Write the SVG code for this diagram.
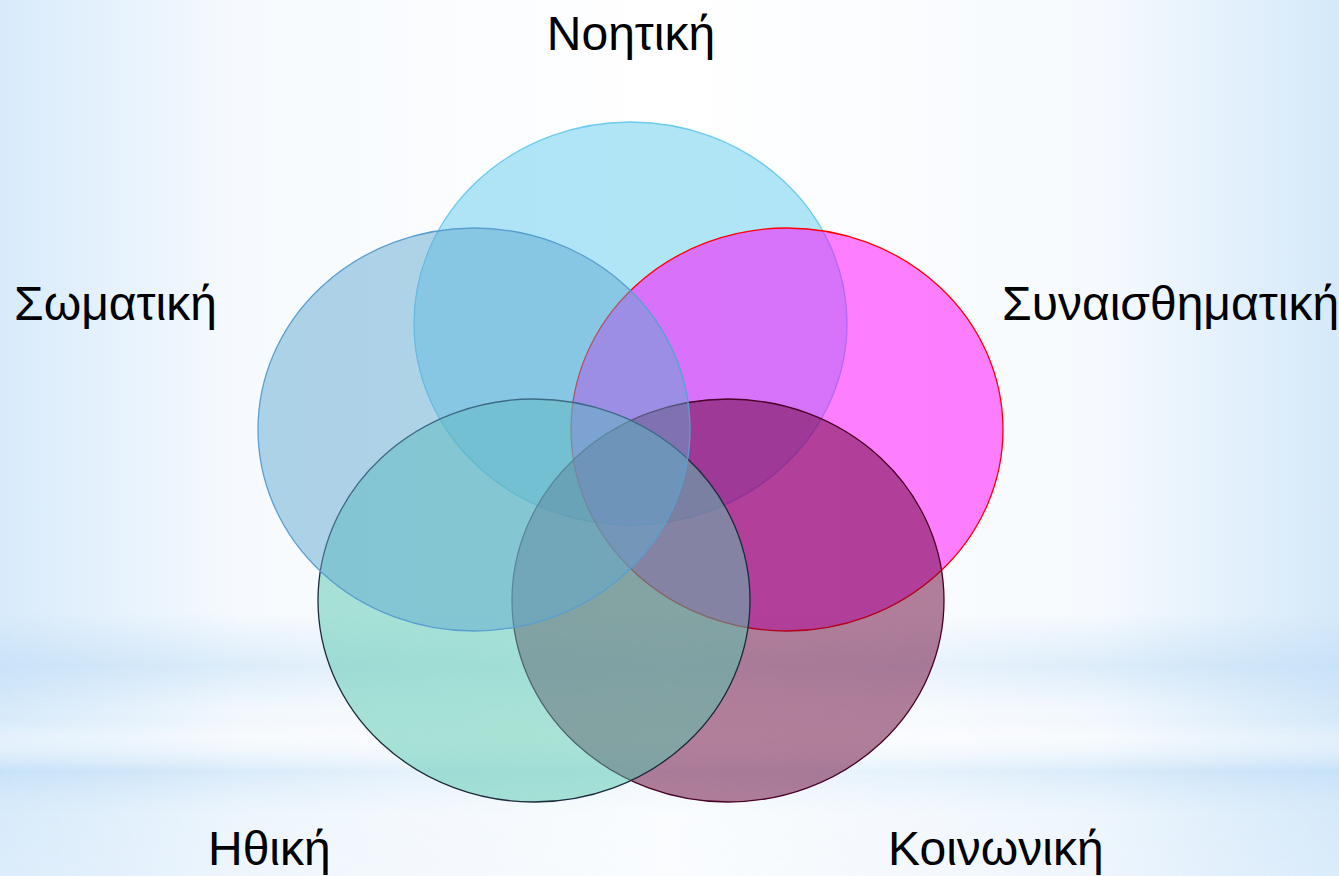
<svg xmlns="http://www.w3.org/2000/svg" width="1339" height="876" viewBox="0 0 1339 876">
  <defs>
    <linearGradient id="bgH" x1="0" y1="0" x2="1" y2="0">
      <stop offset="0" stop-color="#d8ebfb"/>
      <stop offset="0.18" stop-color="#f6fafe"/>
      <stop offset="0.5" stop-color="#ffffff"/>
      <stop offset="0.82" stop-color="#f6fafe"/>
      <stop offset="1" stop-color="#d5e9fa"/>
    </linearGradient>
    <linearGradient id="bgV" x1="0" y1="0" x2="0" y2="1">
      <stop offset="0" stop-color="#c5e0f7" stop-opacity="0"/>
      <stop offset="0.70" stop-color="#c5e0f7" stop-opacity="0"/>
      <stop offset="0.76" stop-color="#c5e0f7" stop-opacity="0.75"/>
      <stop offset="0.81" stop-color="#c5e0f7" stop-opacity="0.1"/>
      <stop offset="0.84" stop-color="#ffffff" stop-opacity="0.3"/>
      <stop offset="0.88" stop-color="#c5e0f7" stop-opacity="0.85"/>
      <stop offset="0.93" stop-color="#d8ebfa" stop-opacity="0.4"/>
      <stop offset="1" stop-color="#e0eefb" stop-opacity="0.5"/>
    </linearGradient>
    <linearGradient id="maskH" x1="0" y1="0" x2="1" y2="0">
      <stop offset="0" stop-color="#ffffff"/>
      <stop offset="0.3" stop-color="#777777"/>
      <stop offset="0.5" stop-color="#555555"/>
      <stop offset="0.7" stop-color="#777777"/>
      <stop offset="1" stop-color="#ffffff"/>
    </linearGradient>
    <mask id="bandMask">
      <rect x="0" y="0" width="1339" height="876" fill="url(#maskH)"/>
    </mask>
    <style>
      .lbl { font-family: "Liberation Sans", Arial, sans-serif; font-size: 48px; fill: #000000; }
      .venn { fill-opacity: 0.5; stroke-width: 1.3; }
    </style>
  </defs>

  <g id="background">
    <rect x="0" y="0" width="1339" height="876" fill="url(#bgH)"/>
    <rect x="0" y="0" width="1339" height="876" fill="url(#bgV)" mask="url(#bandMask)"/>
  </g>

  <g id="node-noetiki">
    <ellipse class="venn" cx="630.5" cy="323.5" rx="216.5" ry="201.5" fill="#62ccee" stroke="#6ccbee"/>
  </g>
  <g id="node-synaisthimatiki">
    <ellipse class="venn" cx="787" cy="429.5" rx="216" ry="201.5" fill="#ff00ff" stroke="#ff0000"/>
  </g>
  <g id="node-koinoniki">
    <ellipse class="venn" cx="728" cy="600.5" rx="216" ry="201.5" fill="#660033" stroke="#4a0028"/>
  </g>
  <g id="node-ithiki">
    <ellipse class="venn" cx="534" cy="600.5" rx="216" ry="201.5" fill="#56c8ae" stroke="#1b2a3c"/>
  </g>
  <g id="node-somatiki">
    <ellipse class="venn" cx="474" cy="429.5" rx="216" ry="201.5" fill="#62aad0" stroke="#5a9fd0"/>
  </g>

  <g id="connectors"></g>

  <g id="labels">
    <text class="lbl" x="631" y="50" text-anchor="middle">Νοητική</text>
    <text class="lbl" x="14" y="320">Σωματική</text>
    <text class="lbl" x="1002" y="320">Συναισθηματική</text>
    <text class="lbl" x="208" y="865">Ηθική</text>
    <text class="lbl" x="888" y="865">Κοινωνική</text>
  </g>
</svg>
